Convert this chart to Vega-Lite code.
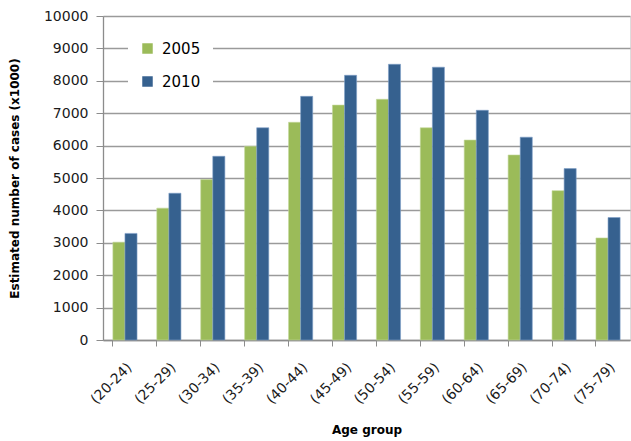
{
  "$schema": "https://vega.github.io/schema/vega-lite/v6.json",
  "autosize": "none",
  "width": 527,
  "height": 324,
  "padding": {"left": 103, "top": 16, "right": 1, "bottom": 101},
  "background": "white",
  "data": {
    "values": [
      {"age": "(20-24)", "year": "2005", "cases": 3020},
      {"age": "(20-24)", "year": "2010", "cases": 3290},
      {"age": "(25-29)", "year": "2005", "cases": 4070},
      {"age": "(25-29)", "year": "2010", "cases": 4530},
      {"age": "(30-34)", "year": "2005", "cases": 4950},
      {"age": "(30-34)", "year": "2010", "cases": 5670},
      {"age": "(35-39)", "year": "2005", "cases": 5980},
      {"age": "(35-39)", "year": "2010", "cases": 6550},
      {"age": "(40-44)", "year": "2005", "cases": 6720},
      {"age": "(40-44)", "year": "2010", "cases": 7520},
      {"age": "(45-49)", "year": "2005", "cases": 7250},
      {"age": "(45-49)", "year": "2010", "cases": 8170},
      {"age": "(50-54)", "year": "2005", "cases": 7430},
      {"age": "(50-54)", "year": "2010", "cases": 8510},
      {"age": "(55-59)", "year": "2005", "cases": 6550},
      {"age": "(55-59)", "year": "2010", "cases": 8420},
      {"age": "(60-64)", "year": "2005", "cases": 6170},
      {"age": "(60-64)", "year": "2010", "cases": 7090},
      {"age": "(65-69)", "year": "2005", "cases": 5710},
      {"age": "(65-69)", "year": "2010", "cases": 6260},
      {"age": "(70-74)", "year": "2005", "cases": 4610},
      {"age": "(70-74)", "year": "2010", "cases": 5290},
      {"age": "(75-79)", "year": "2005", "cases": 3150},
      {"age": "(75-79)", "year": "2010", "cases": 3780}
    ]
  },
  "mark": {"type": "bar", "strokeWidth": 0.6},
  "encoding": {
    "x": {
      "field": "age",
      "type": "nominal",
      "sort": null,
      "scale": {"paddingInner": 0.45, "paddingOuter": 0.225},
      "axis": {
        "title": "Age group",
        "titleFont": "DejaVu Sans",
        "titleFontSize": 12,
        "titleFontWeight": "bold",
        "titleColor": "#000000",
        "titlePadding": 18,
        "labelAngle": -45,
        "labelFont": "DejaVu Sans",
        "labelFontSize": 14,
        "labelColor": "#1a1a1a",
        "labelPadding": 14,
        "bandPosition": 0,
        "tickColor": "#8c8c8c",
        "tickSize": 6,
        "domainColor": "#8c8c8c",
        "domainWidth": 1.3,
        "grid": false
      }
    },
    "xOffset": {"field": "year", "type": "nominal", "scale": {"paddingInner": 0, "paddingOuter": 0}},
    "y": {
      "field": "cases",
      "type": "quantitative",
      "scale": {"domain": [0, 10000], "nice": false},
      "axis": {
        "title": "Estimated number of cases (x1000)",
        "titleFont": "DejaVu Sans",
        "titleFontSize": 12,
        "titleFontWeight": "bold",
        "titleColor": "#000000",
        "titlePadding": 22,
        "values": [0, 1000, 2000, 3000, 4000, 5000, 6000, 7000, 8000, 9000, 10000],
        "format": "d",
        "labelFont": "DejaVu Sans",
        "labelFontSize": 14,
        "labelColor": "#1a1a1a",
        "labelPadding": 8,
        "tickColor": "#8c8c8c",
        "tickSize": 7,
        "domainColor": "#8c8c8c",
        "domainWidth": 1.3,
        "grid": true,
        "gridColor": "#9a9a9a",
        "gridWidth": 1.4
      }
    },
    "color": {
      "field": "year",
      "type": "nominal",
      "scale": {"domain": ["2005", "2010"], "range": ["#9BBB59", "#36618F"]},
      "legend": {
        "title": null,
        "orient": "none",
        "legendX": 25,
        "legendY": 13,
        "fillColor": "white",
        "padding": 12,
        "symbolType": "square",
        "symbolSize": 110,
        "symbolStrokeWidth": 0,
        "labelFont": "DejaVu Sans",
        "labelFontSize": 15,
        "labelColor": "#000000",
        "labelOffset": 7,
        "rowPadding": 17
      }
    },
    "stroke": {
      "field": "year",
      "type": "nominal",
      "scale": {"domain": ["2005", "2010"], "range": ["#c3d69b", "#7f9fc7"]},
      "legend": null
    }
  }
}
